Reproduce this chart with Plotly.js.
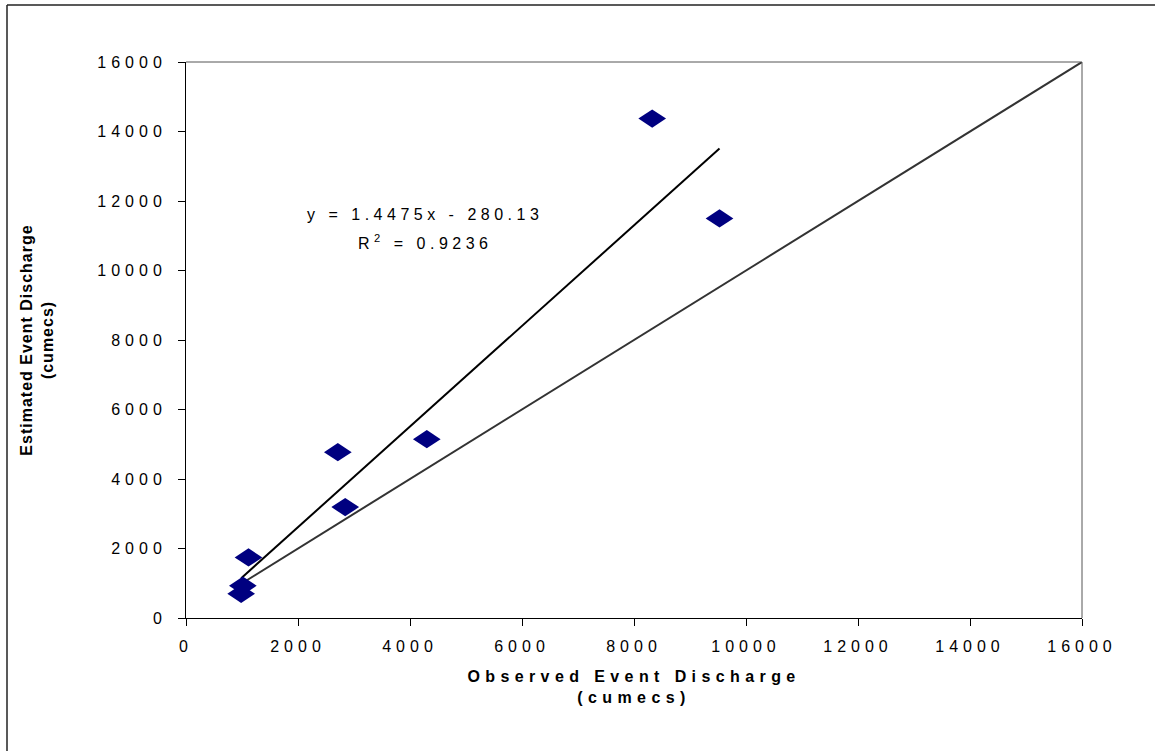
<!DOCTYPE html>
<html><head><meta charset="utf-8">
<script src="https://cdn.plot.ly/plotly-3.0.1.min.js"></script>
<style>
html,body{margin:0;padding:0;background:#fff;}
#chart{width:1155px;height:751px;}
.xtick text, .ytick text { letter-spacing: 5px; }
text.xtitle { letter-spacing: 5.4px; }
text.ytitle { letter-spacing: 1px; }
text.annotation-text { letter-spacing: 4.5px; }
</style></head><body><div id="chart"></div>
<script>
// Data
const observed  = [985, 1015, 1116, 2711, 2843, 4300, 8325, 9527];
const estimated = [698, 928, 1742, 4772, 3191, 5145, 14372, 11497];
const trendSlope = 1.4475;
const trendIntercept = -280.13;
const rSquared = 0.9236;
const equalityLine = [1000, 16000];
const tickValues = [0, 2000, 4000, 6000, 8000, 10000, 12000, 14000, 16000];
const tickLabels = ["0", "2000", "4000", "6000", "8000", "10000", "12000", "14000", "16000"];

const trendX = [Math.min(...observed), Math.max(...observed)];
const trendY = trendX.map(v => trendSlope * v + trendIntercept);

const FONT = "Liberation Sans, Arial, sans-serif";
const navy = "#000080";

const traces = [
  {x: equalityLine, y: equalityLine, mode: "lines", line: {color: "#333333", width: 2}, hoverinfo: "skip"},
  {x: trendX, y: trendY, mode: "lines", line: {color: "#000000", width: 2}, hoverinfo: "skip"},
  {x: observed, y: estimated, mode: "markers", marker: {symbol: "diamond", size: 21.3, color: navy, line: {width: 0}}}
];

const axisCommon = {
  range: [0, 16000], tickvals: tickValues, ticktext: tickLabels,
  ticks: "outside", ticklen: 7, tickwidth: 1, tickcolor: "#000",
  showline: true, linecolor: "#000", linewidth: 1,
  showgrid: false, zeroline: false, fixedrange: true,
  tickfont: {family: FONT, size: 16, color: "#000"}
};

const layout = {
  width: 1155, height: 751,
  margin: {l: 186, r: 73, t: 62, b: 133},
  paper_bgcolor: "#fff", plot_bgcolor: "#fff",
  showlegend: false,
  font: {family: FONT, color: "#000"},
  xaxis: Object.assign({}, axisCommon, {
    ticklabelstandoff: 7,
    title: {text: "Observed Event Discharge<br>(cumecs)", standoff: 16,
            font: {family: FONT, size: 16, weight: "bold", color: "#000"}},
    automargin: false
  }),
  yaxis: Object.assign({}, axisCommon, {
    ticklabelstandoff: 8,
    title: {text: "Estimated Event Discharge<br>(cumecs)", standoff: 39,
            font: {family: FONT, size: 16, weight: "bold", color: "#000"}},
    automargin: false
  }),
  shapes: [
    {type: "line", xref: "paper", yref: "paper", x0: 0, x1: 1, y0: 1, y1: 1, line: {color: "#555", width: 1}},
    {type: "line", xref: "paper", yref: "paper", x0: 1, x1: 1, y0: 0, y1: 1, line: {color: "#555", width: 1}},
    {type: "line", xref: "paper", yref: "paper", x0: (7 - 186) / 896, x1: (1170 - 186) / 896, y0: (618 - 5) / 556, y1: (618 - 5) / 556, line: {color: "#222", width: 1.5}},
    {type: "line", xref: "paper", yref: "paper", x0: (7 - 186) / 896, x1: (7 - 186) / 896, y0: (618 - 5) / 556, y1: (618 - 770) / 556, line: {color: "#222", width: 1.5}}
  ],
  annotations: [
    {xref: "paper", yref: "paper", x: 0.267, y: (618 - 215) / 556, text: "y = " + trendSlope + "x - " + Math.abs(trendIntercept),
     showarrow: false, xanchor: "center", yanchor: "middle", font: {family: FONT, size: 16, color: "#000"}},
    {xref: "paper", yref: "paper", x: 0.267, y: (618 - 242) / 556, text: "R<sup>2</sup> = " + rSquared,
     showarrow: false, xanchor: "center", yanchor: "middle", font: {family: FONT, size: 16, color: "#000"}}
  ]
};

Plotly.newPlot("chart", traces, layout, {displayModeBar: false, staticPlot: true}).then(gd => {
  // Flatten the diamond markers vertically (Excel-style wide diamonds)
  gd.querySelectorAll(".scatterlayer .points path.point").forEach(p => {
    const t = p.getAttribute("transform") || "";
    p.setAttribute("transform", t + " scale(1,0.66)");
  });
});
</script></body></html>
